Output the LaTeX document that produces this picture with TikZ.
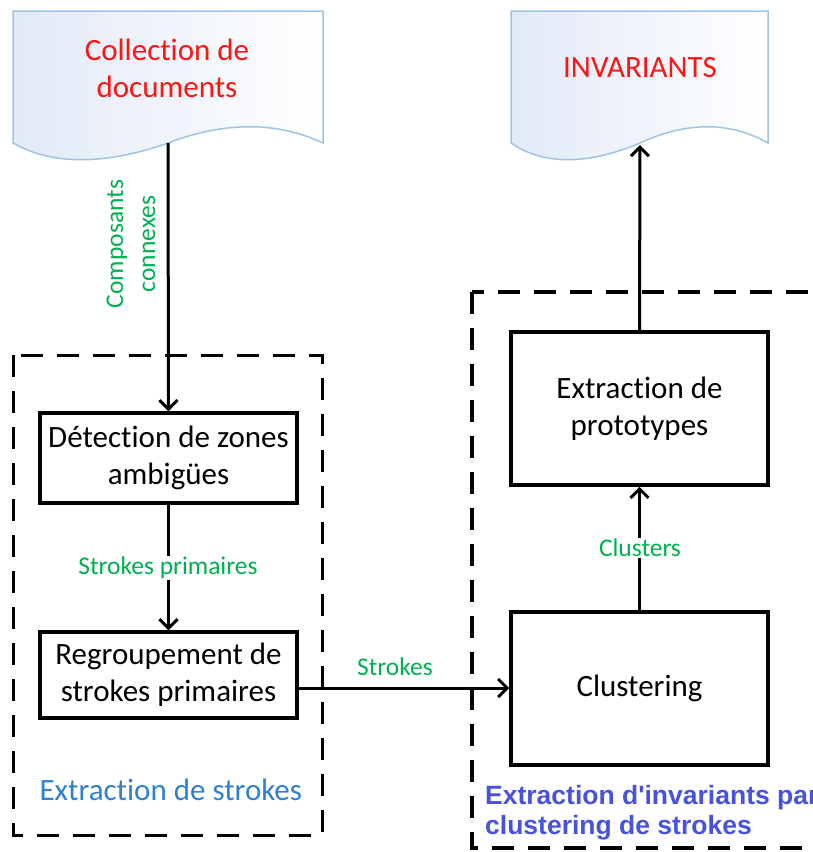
\documentclass[tikz,border=0pt]{standalone}
\usepackage{fontspec}
\setmainfont{Carlito}[Ligatures=NoCommon]
\newfontfamily\arialfont{Liberation Sans}
\usepackage{tikz}
\usetikzlibrary{arrows.meta, positioning}

\definecolor{docred}{RGB}{255,20,20}
\definecolor{labgreen}{RGB}{0,176,80}
\definecolor{docline}{RGB}{160,195,228}
\definecolor{docfill}{RGB}{226,234,247}
\definecolor{stepblue}{RGB}{46,128,208}
\definecolor{partblue}{RGB}{72,82,222}

\begin{document}
\begin{tikzpicture}[
  x=1pt, y=-1pt,
  box/.style={
    rectangle,
    draw,
    line width=3.5pt,
    align=center,
    minimum width=257pt,
    font=\fontsize{31}{37}\selectfont
  },
  doctext/.style={align=center, text=docred, font=\fontsize{31}{37}\selectfont},
  doc/.style={draw=docline, line width=1.5pt, left color=docfill, right color=white},
  group/.style={line width=3pt, dash pattern=on 22pt off 14pt},
  lab/.style={text=labgreen, font=\fontsize{25.5}{32}\selectfont},
  arrow/.style={-{Straight Barb[length=9pt, width=18pt]}, line width=3pt}
]
\clip (0,0) rectangle (813,852);

% Document shapes
\path[doc] (13,11) -- (323,11) -- (323,143)
  .. controls (270,118) and (215,125) .. (168,143)
  .. controls (120,160) and (60,170) .. (13,143) -- cycle;
\path[doc] (511,11) -- (768,11) -- (768,143)
  .. controls (724,118) and (679,125) .. (640,143)
  .. controls (600,160) and (550,170) .. (511,143) -- cycle;
\coordinate (collb) at (168,143);
\coordinate (invb) at (640,145);

% Dashed groups
\draw[group] (13,355) rectangle (322,835);
\draw[group, line width=4.5pt] (472,292) rectangle (840,848);

% Nodes
\node[doctext] (coll) at (167,68) {Collection de\\documents};
\node[doctext] (inv) at (640,68) {INVARIANTS};
\node[box, minimum height=90pt] (detect) at (168.5,458) {Détection de zones\\ambigües};
\node[box, minimum height=86pt] (regroup) at (168.5,675) {Regroupement de\\strokes primaires};
\node[box, minimum height=153pt] (proto) at (639.5,408.5) {Extraction de\\prototypes};
\node[box, minimum height=153pt] (cluster) at (639.5,688.5) {Clustering};

% Arrows
\draw[arrow] (collb) -- (detect.north);
\draw[arrow] (detect.south) -- (regroup.north);
\draw[arrow] (regroup.east |- 0,688) -- (cluster.west |- 0,688);
\draw[arrow] (cluster.north) -- (proto.south);
\draw[arrow] (proto.north) -- (invb);

% Labels
\node[lab, rotate=90, align=center] (compos) at (131,244) {Composants\\connexes};
\node[lab, fill=white, inner sep=1pt] (strprim) at (168,568) {Strokes primaires};
\node[lab, fill=white, inner sep=1pt] (clus) at (640,548) {Clusters};
\node[lab] (strk) at (395,667) {Strokes};
\node[anchor=west, text=stepblue, font=\fontsize{31}{37}\selectfont] (extstr) at (36,790) {Extraction de strokes};
\node[anchor=north west, align=left, text=partblue, inner sep=0pt,
  font=\arialfont\bfseries\fontsize{26.5}{30}\selectfont] (extinv) at (485,785) {Extraction d'invariants par\\clustering de strokes};

\end{tikzpicture}
\end{document}
